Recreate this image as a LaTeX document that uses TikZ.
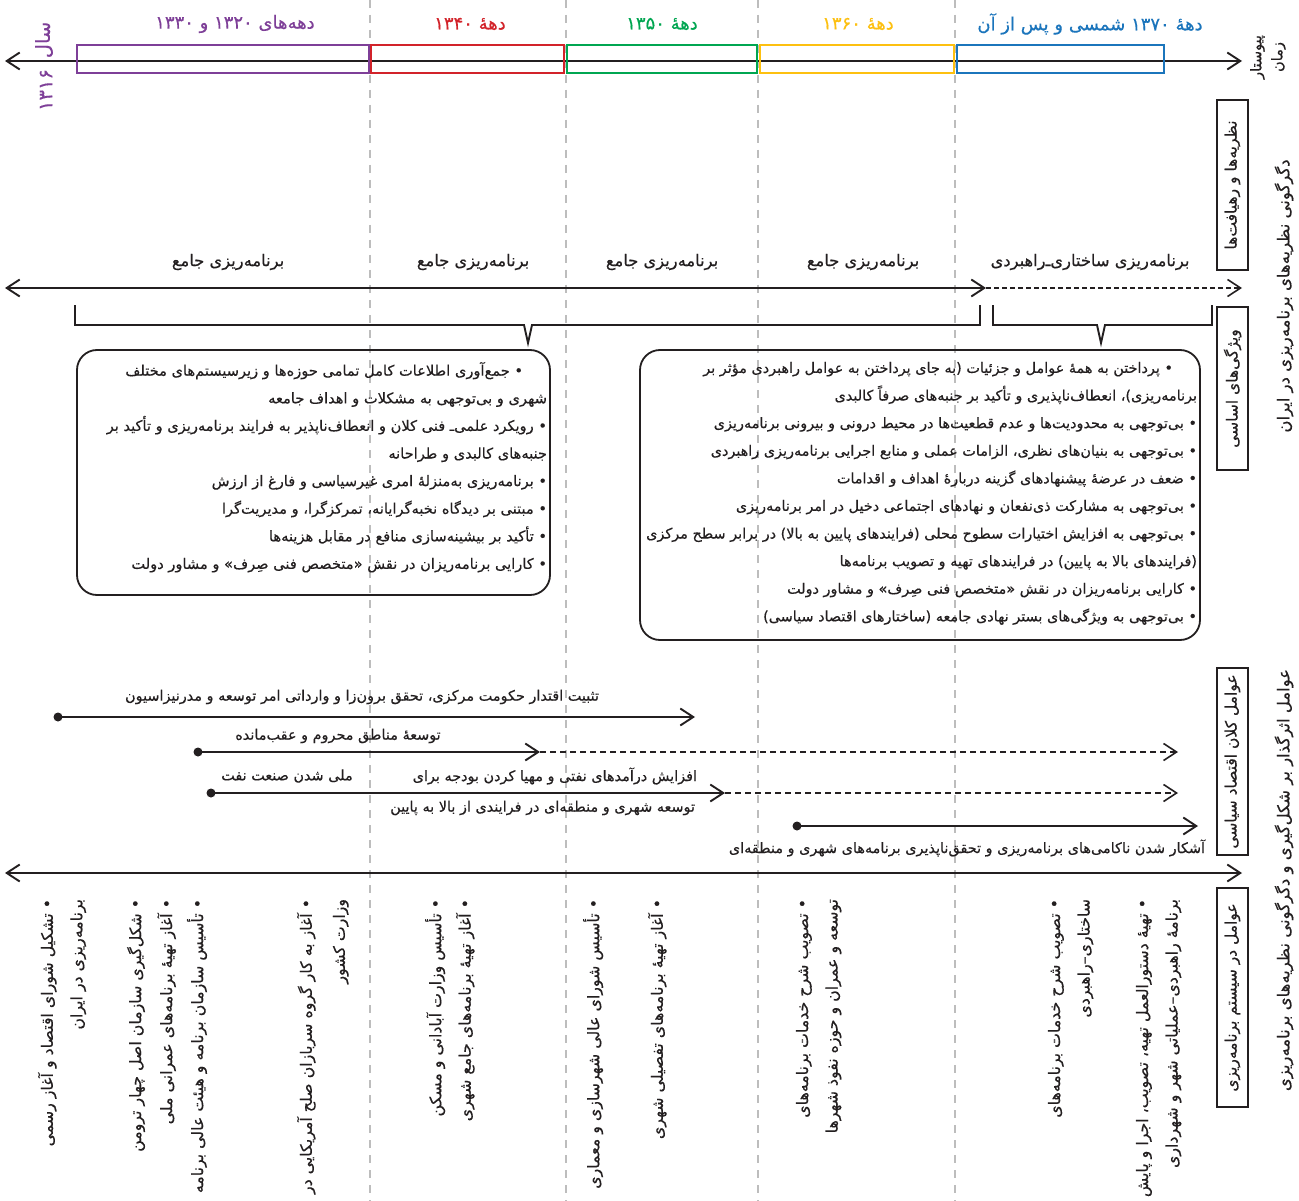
\documentclass[tikz,border=0pt]{standalone}
\usepackage{fontspec}
\setmainfont{DejaVu Sans}
\newfontfamily\fafont[Script=Arabic,FakeBold=0.35]{DejaVu Sans}
\TeXXeTstate=1
\usetikzlibrary{arrows.meta}
\newcommand\fa[1]{\beginR #1\endR}
\definecolor{ink}{HTML}{231F20}
\definecolor{cPur}{HTML}{7E3F98}
\definecolor{cRed}{HTML}{D2232A}
\definecolor{cGrn}{HTML}{00A651}
\definecolor{cYel}{HTML}{FDC010}
\definecolor{cBlu}{HTML}{1B75BC}
\definecolor{cGry}{HTML}{BDBDBD}
\tikzset{
  >={Straight Barb[length=13pt,width=17pt]},
  every node/.style={inner sep=0pt, outer sep=0pt, text=ink},
  ln/.style={line width=1.9pt, draw=ink},
  dsh/.style={line width=1.6pt, draw=ink, dash pattern=on 6pt off 4pt},
  guide/.style={line width=1.1pt, draw=cGry, dash pattern=on 8pt off 7pt},
  dot/.style={circle, fill=ink, minimum size=9pt},
  hdr/.style={font=\fafont\fontsize{18}{21}\selectfont},
  decbox/.style={draw, line width=2pt, minimum height=28pt},
  midlbl/.style={font=\fafont\fontsize{16.3}{19}\selectfont},
  boxtxt/.style={align=right, anchor=north east},
  rbox/.style={draw=ink, line width=1.8pt, rounded corners=20pt},
  albl/.style={font=\fafont\fontsize{14.4}{17}\selectfont},
  rot/.style={rotate=90, align=right, anchor=north east, font=\fafont\fontsize{15.8}{29.5}\selectfont},
  sidebox/.style={draw=ink, line width=2pt, rotate=90, minimum height=31pt, font=\fafont\fontsize{15.5}{17}\selectfont},
  sidetxt/.style={rotate=90, font=\fafont\fontsize{16.5}{19}\selectfont}
}
\begin{document}
\begin{tikzpicture}[x=1pt,y=-1pt]
\useasboundingbox[fill=white] (0,0) rectangle (1299,1201);
% guides
\foreach \gx in {370,566,758,955} \draw[guide] (\gx,0) -- (\gx,1201);

% ---------- timeline ----------
\coordinate (tl) at (5,61);
\coordinate (tr) at (1242,61);
\draw[ln,<->] (tl) -- (tr);
\node[decbox, draw=cPur, minimum width=292pt] (d20) at (223,59) {};
\node[decbox, draw=cRed, minimum width=193pt] (d40) at (467.5,59) {};
\node[decbox, draw=cGrn, minimum width=190pt] (d50) at (662,59) {};
\node[decbox, draw=cYel, minimum width=194pt] (d60) at (857,59) {};
\node[decbox, draw=cBlu, minimum width=207pt] (d70) at (1060.5,59) {};
\node[hdr, text=cPur] (h20) at (235,24) {\fa{دهه‌های ۱۳۲۰ و ۱۳۳۰}};
\node[hdr, text=cRed] (h40) at (470,24) {\fa{دههٔ ۱۳۴۰}};
\node[hdr, text=cGrn] (h50) at (662,24) {\fa{دههٔ ۱۳۵۰}};
\node[hdr, text=cYel] (h60) at (858,24) {\fa{دههٔ ۱۳۶۰}};
\node[hdr, text=cBlu] (h70) at (1090,24) {\fa{دههٔ ۱۳۷۰ شمسی و پس از آن}};
\node[hdr, text=cPur, rotate=90, font=\fafont\fontsize{19.5}{22}\selectfont] (sal) at (44,40) {\fa{سال}};
\node[hdr, text=cPur, rotate=90, font=\fafont\fontsize{19.5}{22}\selectfont] (y16) at (46,90) {\fa{۱۳۱۶}};
\node[sidetxt, align=center, font=\fafont\fontsize{14.5}{21}\selectfont] (pz) at (1268,57) {\fa{پیوستار}\\\fa{زمان}};

% ---------- theories row ----------
\node[midlbl] (t1) at (228,262) {\fa{برنامه‌ریزی جامع}};
\node[midlbl] (t2) at (473,262) {\fa{برنامه‌ریزی جامع}};
\node[midlbl] (t3) at (662,262) {\fa{برنامه‌ریزی جامع}};
\node[midlbl] (t4) at (863,262) {\fa{برنامه‌ریزی جامع}};
\node[midlbl] (t5) at (1090,262) {\fa{برنامه‌ریزی ساختاری‌ـ‌راهبردی}};
\coordinate (ml) at (5,288);
\coordinate (mm) at (986,288);
\coordinate (mr) at (1242,288);
\draw[ln,<->] (ml) -- (mm);
\draw[dsh,dash pattern=on 5pt off 3pt,->] (mm) -- (mr);

% brackets
\draw[ln] (75,305) -- (75,325) -- (524,325) -- (528,343) -- (532,325) -- (980,325) -- (980,305);
\draw[ln] (993,305) -- (993,325) -- (1097,325) -- (1101,343) -- (1105,325) -- (1212,325) -- (1212,305);

% rounded boxes
\node[rbox, minimum width=473pt, minimum height=245pt] (bl) at (313.5,472.5) {};
\node[rbox, minimum width=560pt, minimum height=290pt] (br) at (920,495) {};
\node[boxtxt, font=\fafont\fontsize{14.6}{27.6}\selectfont] (blt) at ([xshift=-3pt,yshift=-12pt]bl.north east) {%
\fa{• جمع‌آوری اطلاعات کامل تمامی حوزه‌ها و زیرسیستم‌های مختلف}\kern24pt\\
\fa{شهری و بی‌توجهی به مشکلات و اهداف جامعه}\\
\fa{• رویکرد علمی‌ـ فنی کلان و انعطاف‌ناپذیر به فرایند برنامه‌ریزی و تأکید بر}\\
\fa{جنبه‌های کالبدی و طراحانه}\\
\fa{• برنامه‌ریزی به‌منزلهٔ امری غیرسیاسی و فارغ از ارزش}\\
\fa{• مبتنی بر دیدگاه نخبه‌گرایانه، تمرکزگرا، و مدیریت‌گرا}\\
\fa{• تأکید بر بیشینه‌سازی منافع در مقابل هزینه‌ها}\\
\fa{• کارایی برنامه‌ریزان در نقش «متخصص فنی صِرف» و مشاور دولت}};
\node[boxtxt, font=\fafont\fontsize{14.4}{27.6}\selectfont] (brt) at ([xshift=-3pt,yshift=-12pt]br.north east) {%
\fa{• پرداختن به همهٔ عوامل و جزئیات (به جای پرداختن به عوامل راهبردی مؤثر بر}\kern24pt\\
\fa{برنامه‌ریزی)، انعطاف‌ناپذیری و تأکید بر جنبه‌های صرفاً کالبدی}\\
\fa{• بی‌توجهی به محدودیت‌ها و عدم قطعیت‌ها در محیط درونی و بیرونی برنامه‌ریزی}\\
\fa{• بی‌توجهی به بنیان‌های نظری، الزامات عملی و منابع اجرایی برنامه‌ریزی راهبردی}\\
\fa{• ضعف در عرضهٔ پیشنهادهای گزینه دربارهٔ اهداف و اقدامات}\\
\fa{• بی‌توجهی به مشارکت ذی‌نفعان و نهادهای اجتماعی دخیل در امر برنامه‌ریزی}\\
\fa{• بی‌توجهی به افزایش اختیارات سطوح محلی (فرایندهای پایین به بالا) در برابر سطح مرکزی}\\
\fa{(فرایندهای بالا به پایین) در فرایندهای تهیه و تصویب برنامه‌ها}\\
\fa{• کارایی برنامه‌ریزان در نقش «متخصص فنی صِرف» و مشاور دولت}\\
\fa{• بی‌توجهی به ویژگی‌های بستر نهادی جامعه (ساختارهای اقتصاد سیاسی)}};

% ---------- macro factors ----------
\node[dot] (p1) at (58,717) {};
\coordinate (e1) at (695,717);
\draw[ln,->] (p1.center) -- (e1);
\node[albl] (l1) at (362,697) {\fa{تثبیت اقتدار حکومت مرکزی، تحقق برون‌زا و وارداتی امر توسعه و مدرنیزاسیون}};

\node[dot] (p2) at (198,752) {};
\coordinate (m2) at (540,752);
\coordinate (e2) at (1178,752);
\draw[ln,->] (p2.center) -- (m2);
\draw[dsh,->] (m2) -- (e2);
\node[albl] (l2) at (338,736) {\fa{توسعهٔ مناطق محروم و عقب‌مانده}};

\node[dot] (p3) at (211,793) {};
\coordinate (m3) at (725,793);
\coordinate (e3) at (1178,793);
\draw[ln,->] (p3.center) -- (m3);
\draw[dsh,->] (m3) -- (e3);
\node[albl] (l3a) at (287,776) {\fa{ملی شدن صنعت نفت}};
\node[albl, anchor=east] (l3b) at (697,776) {\fa{افزایش درآمدهای نفتی و مهیا کردن بودجه برای}};
\node[albl, anchor=east] (l3c) at (695,808) {\fa{توسعه شهری و منطقه‌ای در فرایندی از بالا به پایین}};

\node[dot] (p4) at (797,826) {};
\coordinate (e4) at (1198,826);
\draw[ln,->] (p4.center) -- (e4);
\node[albl, anchor=east] (l4) at (1205,848) {\fa{آشکار شدن ناکامی‌های برنامه‌ریزی و تحقق‌ناپذیری برنامه‌های شهری و منطقه‌ای}};

% ---------- planning system ----------
\coordinate (bl0) at (5,873);
\coordinate (br0) at (1242,873);
\draw[ln,<->] (bl0) -- (br0);
\node[rot] (s1) at (38,899) {\fa{• تشکیل شورای اقتصاد و آغاز رسمی}\\\fa{برنامه‌ریزی در ایران}};
\node[rot, font=\fafont\fontsize{15.8}{31}\selectfont] (s2) at (127,899) {\fa{• شکل‌گیری سازمان اصل چهار ترومن}\\\fa{• آغاز تهیهٔ برنامه‌های عمرانی ملی}\\\fa{• تأسیس سازمان برنامه و هیئت عالی برنامه}};
\node[rot, font=\fafont\fontsize{15.8}{33}\selectfont] (s3) at (297,899) {\fa{• آغاز به کار گروه سربازان صلح آمریکایی در}\\\fa{وزارت کشور}};
\node[rot] (s4) at (425,899) {\fa{• تأسیس وزارت آبادانی و مسکن}\\\fa{• آغاز تهیهٔ برنامه‌های جامع شهری}};
\node[rot] (s5) at (583,899) {\fa{• تأسیس شورای عالی شهرسازی و معماری}};
\node[rot] (s6) at (648,899) {\fa{• آغاز تهیهٔ برنامه‌های تفصیلی شهری}};
\node[rot] (s7) at (796,899) {\fa{• تصویب شرح خدمات برنامه‌های}\\\fa{توسعه و عمران و حوزه نفوذ شهرها}};
\node[rot] (s8) at (1048,899) {\fa{• تصویب شرح خدمات برنامه‌های}\\\fa{ساختاری–راهبردی}};
\node[rot] (s9) at (1136,899) {\fa{• تهیهٔ دستورالعمل تهیه، تصویب، اجرا و پایش}\\\fa{برنامهٔ راهبردی–عملیاتی شهر و شهرداری}};

% ---------- right side ----------
\node[sidebox, minimum width=170pt] (r1) at (1232.5,185) {\fa{نظریه‌ها و رهیافت‌ها}};
\node[sidebox, minimum width=163pt] (r2) at (1232.5,388.5) {\fa{ویژگی‌های اساسی}};
\node[sidebox, minimum width=187pt] (r3) at (1232.5,761.5) {\fa{عوامل کلان اقتصاد سیاسی}};
\node[sidebox, minimum width=219pt] (r4) at (1232.5,997.5) {\fa{عوامل در سیستم برنامه‌ریزی}};
\node[sidetxt] (o1) at (1284,296) {\fa{دگرگونی نظریه‌های برنامه‌ریزی در ایران}};
\node[sidetxt] (o2) at (1284,880) {\fa{عوامل اثرگذار بر شکل‌گیری و دگرگونی نظریه‌های برنامه‌ریزی}};
\end{tikzpicture}
\end{document}
